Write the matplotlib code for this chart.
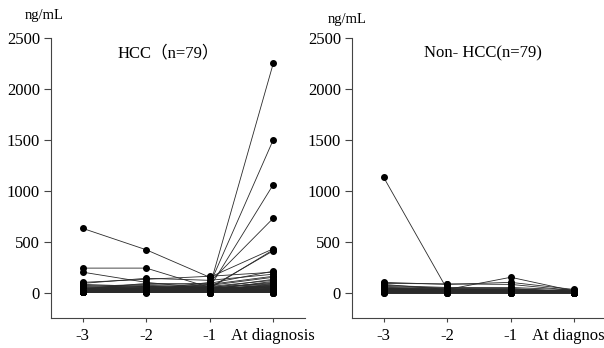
import matplotlib
matplotlib.use("Agg")
import matplotlib.pyplot as plt

# time points
labels = ["-3", "-2", "-1", "At diagnosis"]

# HCC group, one value per patient at each time point (ng/mL)
hcc_m3 = [
    10, 15, 20, 30, 630, 240, 200, 100, 90, 80,
    70, 60, 55, 50, 45, 40, 38, 35, 32, 30,
    28, 26, 25, 24, 22, 20, 19, 18, 17, 16,
    15, 14, 13, 12, 12, 11, 10, 10, 9, 9,
    8, 8, 7, 7, 6, 6, 5, 5, 5, 4,
    4, 4, 3, 3, 3, 2, 2, 2, 2, 1,
    1, 1, 1, 20, 25, 30, 35, 40, 15, 10,
    8, 6, 12, 18, 22, 28, 5, 3, 2,
]
hcc_m2 = [
    20, 30, 40, 25, 420, 240, 100, 130, 140, 60,
    50, 80, 45, 70, 35, 60, 30, 90, 40, 25,
    20, 45, 30, 15, 35, 10, 25, 20, 12, 30,
    18, 10, 22, 8, 15, 12, 6, 20, 5, 14,
    10, 4, 12, 9, 3, 8, 10, 2, 6, 5,
    4, 7, 3, 2, 5, 1, 3, 4, 2, 1,
    2, 1, 0, 30, 20, 50, 25, 60, 10, 12,
    6, 8, 15, 25, 18, 40, 4, 2, 1,
]
hcc_m1 = [
    60, 80, 50, 100, 150, 50, 40, 160, 120, 70,
    60, 90, 40, 55, 30, 45, 35, 80, 25, 20,
    30, 50, 15, 25, 40, 12, 20, 10, 18, 35,
    15, 8, 20, 6, 12, 10, 5, 16, 4, 10,
    8, 3, 10, 7, 2, 6, 8, 1, 5, 4,
    3, 5, 2, 1, 4, 0, 2, 3, 1, 0,
    1, 0, 0, 25, 15, 40, 20, 45, 8, 10,
    5, 6, 12, 20, 14, 30, 3, 1, 0,
]
hcc_dx = [
    2250, 1500, 1060, 730, 430, 410, 420, 200, 180, 150,
    120, 210, 100, 90, 80, 130, 70, 160, 60, 50,
    110, 45, 40, 75, 35, 30, 55, 25, 20, 65,
    18, 15, 28, 12, 10, 22, 8, 14, 6, 5,
    12, 4, 9, 3, 7, 2, 10, 1, 6, 4,
    3, 8, 2, 1, 5, 0, 2, 3, 1, 0,
    1, 0, 0, 40, 25, 60, 30, 85, 10, 15,
    6, 8, 20, 35, 18, 50, 4, 2, 1,
]

# Non-HCC group
non_m3 = [
    1130, 100, 90, 80, 70, 60, 50, 45, 40, 35,
    30, 28, 25, 22, 20, 18, 16, 15, 14, 12,
    11, 10, 10, 9, 9, 8, 8, 7, 7, 6,
    6, 5, 5, 5, 4, 4, 4, 3, 3, 3,
    2, 2, 2, 2, 1, 1, 1, 1, 0, 0,
    20, 15, 12, 10, 8, 6, 5, 4, 3, 2,
    25, 30, 18, 14, 9, 7, 5, 3, 2, 1,
    40, 35, 22, 16, 11, 6, 4, 2, 1,
]
non_m2 = [
    30, 80, 85, 30, 50, 45, 40, 35, 30, 25,
    20, 22, 25, 18, 15, 12, 14, 10, 12, 8,
    9, 7, 10, 6, 8, 5, 7, 4, 6, 3,
    5, 4, 6, 3, 4, 2, 3, 2, 3, 1,
    2, 1, 2, 1, 1, 0, 1, 0, 0, 0,
    15, 12, 10, 8, 6, 5, 4, 3, 2, 1,
    20, 25, 15, 12, 8, 6, 4, 3, 2, 1,
    30, 28, 18, 12, 9, 5, 3, 2, 1,
]
non_m1 = [
    20, 100, 80, 150, 50, 40, 35, 30, 25, 20,
    18, 16, 15, 14, 12, 10, 11, 9, 8, 7,
    6, 6, 5, 5, 4, 4, 3, 3, 2, 2,
    5, 4, 6, 3, 4, 2, 3, 2, 3, 1,
    2, 1, 2, 1, 1, 0, 1, 0, 0, 0,
    12, 10, 8, 6, 5, 4, 3, 2, 1, 1,
    15, 20, 12, 10, 6, 5, 3, 2, 1, 0,
    25, 22, 14, 10, 7, 4, 2, 1, 0,
]
non_dx = [
    10, 30, 20, 15, 25, 12, 10, 8, 18, 6,
    5, 9, 4, 7, 3, 6, 2, 5, 4, 3,
    2, 3, 1, 2, 1, 2, 1, 1, 0, 1,
    3, 2, 4, 1, 2, 1, 2, 1, 1, 0,
    1, 0, 1, 0, 0, 0, 1, 0, 0, 0,
    8, 6, 5, 4, 3, 2, 2, 1, 1, 0,
    10, 12, 8, 6, 4, 3, 2, 1, 0, 0,
    15, 14, 9, 7, 5, 3, 1, 0, 0,
]

plt.rcParams['font.family'] = ['Liberation Serif', 'Noto Sans CJK SC', 'DejaVu Sans']


def panel(ax, cols, title, tx):
    xs = list(range(len(labels)))
    for row in zip(*cols):
        ax.plot(xs, row, '-o', color='#2a2a2a', lw=0.6, ms=4,
                mfc='black', mec='black')
    ax.set_xlim(-0.5, 3.5)
    ax.set_ylim(-250, 2500)
    ax.set_yticks([0, 500, 1000, 1500, 2000, 2500])
    ax.set_xticks(xs)
    ax.set_xticklabels(labels)
    ax.tick_params(labelsize=12, color='#444444')
    ax.tick_params(axis='y', length=5, pad=3)
    ax.tick_params(axis='x', length=3, pad=4)
    for s in ['top', 'right']:
        ax.spines[s].set_visible(False)
    for s in ['left', 'bottom']:
        ax.spines[s].set_color('#444444')
    ax.text(tx, 0.946, title, transform=ax.transAxes, ha='center',
            va='center', fontsize=12)


def main():
    fig = plt.figure(figsize=(6.04, 3.48), dpi=100)
    ax1 = fig.add_axes([51 / 604, 30 / 348, 254 / 604, 280 / 348])
    ax2 = fig.add_axes([352 / 604, 30 / 348, 254 / 604, 280 / 348])

    panel(ax1, [hcc_m3, hcc_m2, hcc_m1, hcc_dx], "HCC（n=79）", 0.46)
    panel(ax2, [non_m3, non_m2, non_m1, non_dx], "Non- HCC(n=79)", 0.516)

    fig.text(44 / 604, 1 - 15 / 348, "ng/mL", ha='center', va='center', fontsize=10.5)
    fig.text(347 / 604, 1 - 19 / 348, "ng/mL", ha='center', va='center', fontsize=10.5)

    fig.savefig("out.png", dpi=100)


if __name__ == "__main__":
    main()
